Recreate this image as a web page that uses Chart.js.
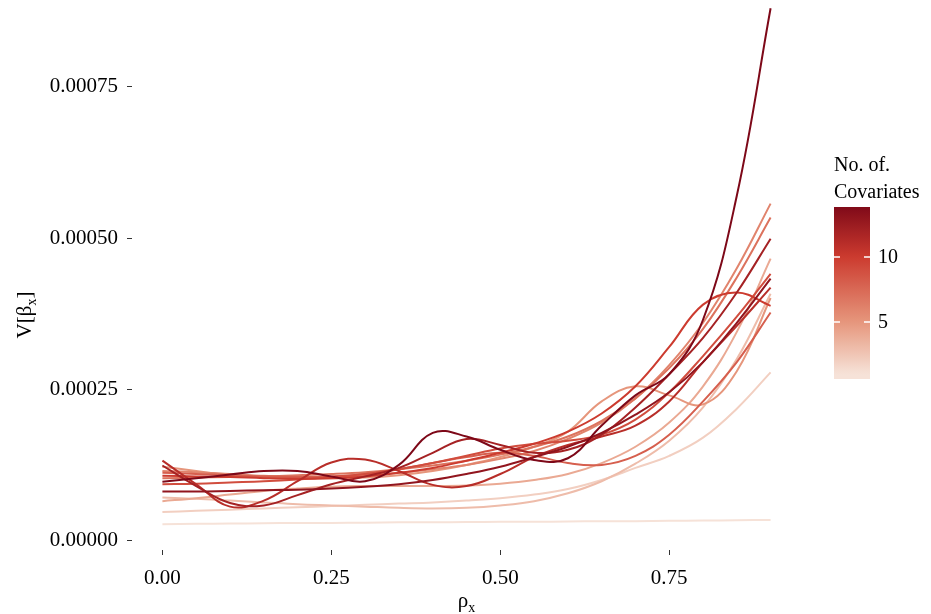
<!DOCTYPE html>
<html>
<head>
<meta charset="utf-8">
<script src="https://cdn.jsdelivr.net/npm/chart.js@4.4.1/dist/chart.umd.min.js"></script>
<style>
  html, body { margin: 0; padding: 0; background: #fff; }
</style>
</head>
<body>
<canvas id="chart" width="931" height="614"></canvas>
<script>
// rho_x grid (x axis)
const rho = [0, 0.05, 0.1, 0.15, 0.2, 0.25, 0.3, 0.35, 0.4, 0.45, 0.5, 0.55, 0.6, 0.65, 0.7, 0.75, 0.8, 0.85, 0.9];

// V[beta_x] per number of covariates, in units of 1e-5
const cov1  = [2.7, 2.75, 2.8, 2.85, 2.9, 2.9, 2.95, 3.0, 3.0, 3.05, 3.1, 3.1, 3.15, 3.2, 3.2, 3.25, 3.3, 3.35, 3.4];
const cov2  = [4.7, 4.9, 5.1, 5.3, 5.5, 5.7, 5.9, 6.1, 6.3, 6.6, 7.0, 7.6, 8.5, 10.0, 12.0, 14.0, 17.0, 21.8, 27.8];
const cov3  = [7.1, 6.9, 6.6, 6.3, 6.0, 5.8, 5.6, 5.4, 5.3, 5.4, 5.8, 6.5, 7.8, 9.8, 12.7, 16.5, 22.0, 30.0, 40.8];
const cov4  = [6.5, 7.0, 7.6, 8.2, 8.6, 8.9, 9.0, 9.0, 9.0, 9.1, 9.4, 10.0, 11.0, 12.8, 15.5, 19.5, 25.5, 34.5, 46.6];
const cov5  = [12.2, 11.5, 10.8, 10.5, 10.3, 10.3, 10.4, 10.8, 11.5, 12.5, 13.8, 15.5, 18.0, 23.0, 25.5, 24.0, 22.5, 28.0, 40.1];
const cov6  = [11.5, 11.3, 11.0, 10.7, 10.5, 10.5, 10.8, 11.2, 11.8, 12.5, 13.5, 14.8, 16.8, 19.5, 23.5, 29.0, 36.0, 45.0, 55.7];
const cov7  = [10.3, 10.4, 10.5, 10.6, 10.8, 11.0, 11.3, 11.8, 12.4, 13.2, 14.2, 15.5, 17.2, 19.8, 23.5, 28.5, 35.0, 43.5, 53.4];
const cov8  = [11.2, 11.0, 10.8, 10.6, 10.5, 10.6, 11.0, 11.8, 12.8, 13.8, 14.5, 14.0, 12.8, 12.5, 14.0, 17.5, 23.0, 29.5, 37.7];
const cov9  = [9.3, 9.4, 9.6, 9.8, 10.1, 10.5, 11.0, 11.8, 12.8, 14.0, 15.2, 16.0, 16.5, 17.5, 20.0, 24.5, 30.5, 37.0, 44.1];
const cov10 = [10.7, 10.6, 10.5, 10.3, 10.2, 10.3, 10.6, 11.2, 12.0, 13.2, 14.5, 16.0, 18.0, 21.0, 25.5, 32.0, 39.0, 41.0, 38.8];
const cov11 = [13.2, 9.3, 5.6, 6.6, 9.8, 12.9, 13.4, 11.5, 9.2, 9.0, 11.0, 13.8, 15.8, 17.2, 19.0, 23.0, 29.5, 35.5, 41.8];
const cov12 = [12.4, 9.0, 6.2, 5.8, 7.5, 9.3, 10.6, 12.0, 14.5, 16.8, 15.8, 14.5, 15.0, 17.5, 22.0, 27.5, 33.5, 41.0, 49.9];
const cov13 = [8.1, 8.1, 8.2, 8.3, 8.4, 8.6, 8.9, 9.3, 10.0, 11.0, 12.2, 13.8, 15.5, 17.8, 20.8, 24.5, 29.5, 36.0, 43.3];
const cov14 = [9.7, 10.3, 10.9, 11.5, 11.5, 10.6, 9.8, 12.5, 17.8, 17.2, 15.0, 13.3, 13.6, 19.0, 24.0, 27.5, 36.5, 57.0, 88.0];

const series = [cov1, cov2, cov3, cov4, cov5, cov6, cov7, cov8, cov9, cov10, cov11, cov12, cov13, cov14];
const covariates = [1, 2, 3, 4, 5, 6, 7, 8, 9, 10, 11, 12, 13, 14];

const xTicks = [0, 0.25, 0.5, 0.75];
const yTicks = [0, 0.00025, 0.0005, 0.00075];
const legendTicks = [5, 10];

// colour scale stops (value -> rgb)
const colourStops = [
  [1, [246, 226, 216]],
  [5, [230, 150, 124]],
  [10, [204, 59, 47]],
  [14, [125, 8, 24]]
];

function colourFor(v) {
  for (let i = 0; i < colourStops.length - 1; i++) {
    const [a, ca] = colourStops[i];
    const [b, cb] = colourStops[i + 1];
    if (v <= b) {
      const t = Math.max(0, (v - a) / (b - a));
      const c = ca.map((x, k) => Math.round(x + (cb[k] - x) * t));
      return `rgb(${c[0]},${c[1]},${c[2]})`;
    }
  }
  const c = colourStops[colourStops.length - 1][1];
  return `rgb(${c[0]},${c[1]},${c[2]})`;
}

const FONT = '"Liberation Serif", "Times New Roman", serif';

const datasets = series.map((vals, i) => ({
  label: String(covariates[i]),
  data: vals.map((v, j) => ({ x: rho[j], y: v / 1e5 })),
  borderColor: colourFor(covariates[i]),
  borderWidth: 2,
  pointRadius: 0,
  fill: false,
  tension: 0.4,
  clip: false,
  order: 15 - covariates[i]
}));

// axis titles and colour bar legend
const extras = {
  id: 'extras',
  afterDraw(chart) {
    const ctx = chart.ctx;
    ctx.save();
    ctx.fillStyle = '#000';

    // y title: V[beta_x]
    ctx.save();
    ctx.translate(31, 315);
    ctx.rotate(-Math.PI / 2);
    ctx.textBaseline = 'alphabetic';
    ctx.font = '21px ' + FONT;
    const a = 'V[β';
    const wa = ctx.measureText(a).width;
    ctx.font = '14px ' + FONT;
    const wx = ctx.measureText('x').width;
    ctx.font = '21px ' + FONT;
    const wb = ctx.measureText(']').width;
    let x0 = -(wa + wx + wb) / 2;
    ctx.fillText(a, x0, 0);
    ctx.font = '14px ' + FONT;
    ctx.fillText('x', x0 + wa, 5);
    ctx.font = '21px ' + FONT;
    ctx.fillText(']', x0 + wa + wx, 0);
    ctx.restore();

    // x title: rho_x
    const cx = (chart.chartArea.left + chart.chartArea.right) / 2;
    ctx.font = '21px ' + FONT;
    const wr = ctx.measureText('ρ').width;
    ctx.fillText('ρ', cx - (wr + wx) / 2, 607);
    ctx.font = '14px ' + FONT;
    ctx.fillText('x', cx - (wr + wx) / 2 + wr, 612);

    // legend title
    ctx.font = '20px ' + FONT;
    ctx.fillText('No. of.', 834, 171);
    ctx.fillText('Covariates', 834, 198);

    // colour bar
    const barL = 834, barR = 870, barT = 207, barB = 379;
    const yOf = v => 322 - (v - 5) * 13;
    const grad = ctx.createLinearGradient(0, barB, 0, barT);
    for (let y = barB; y >= barT; y -= 4) {
      const v = 5 + (322 - y) / 13;
      grad.addColorStop((barB - y) / (barB - barT), colourFor(Math.min(14, Math.max(1, v))));
    }
    ctx.fillStyle = grad;
    ctx.fillRect(barL, barT, barR - barL, barB - barT);

    ctx.strokeStyle = '#fff';
    ctx.lineWidth = 1.5;
    ctx.fillStyle = '#000';
    ctx.font = '20px ' + FONT;
    ctx.textBaseline = 'middle';
    legendTicks.forEach(t => {
      const y = yOf(t);
      ctx.beginPath();
      ctx.moveTo(barL, y); ctx.lineTo(barL + 6, y);
      ctx.moveTo(barR - 6, y); ctx.lineTo(barR, y);
      ctx.stroke();
      ctx.fillText(String(t), 878, y + 1);
    });
    ctx.restore();
  }
};

new Chart(document.getElementById('chart').getContext('2d'), {
  type: 'line',
  data: { datasets: datasets },
  plugins: [extras],
  options: {
    responsive: false,
    animation: false,
    layout: { padding: { left: 0, right: 130, top: 0, bottom: 0 } },
    plugins: { legend: { display: false }, tooltip: { enabled: false } },
    scales: {
      x: {
        type: 'linear',
        min: -0.045,
        max: 0.945,
        afterBuildTicks: s => { s.ticks = xTicks.map(v => ({ value: v })); },
        afterFit: s => { s.height = 64; },
        border: { display: false },
        grid: { drawOnChartArea: false, drawTicks: true, tickLength: 5, color: '#333', lineWidth: 1 },
        ticks: {
          color: '#000',
          font: { family: FONT, size: 21 },
          padding: 11,
          callback: v => v.toFixed(2)
        }
      },
      y: {
        type: 'linear',
        min: -0.0000157,
        max: 0.000858,
        afterBuildTicks: s => { s.ticks = yTicks.map(v => ({ value: v })); },
        afterFit: s => { s.width = 132; },
        border: { display: false },
        grid: { drawOnChartArea: false, drawTicks: true, tickLength: 5, color: '#333', lineWidth: 1 },
        ticks: {
          color: '#000',
          font: { family: FONT, size: 21 },
          padding: 9,
          callback: v => v.toFixed(5)
        }
      }
    }
  }
});
</script>
</body>
</html>
